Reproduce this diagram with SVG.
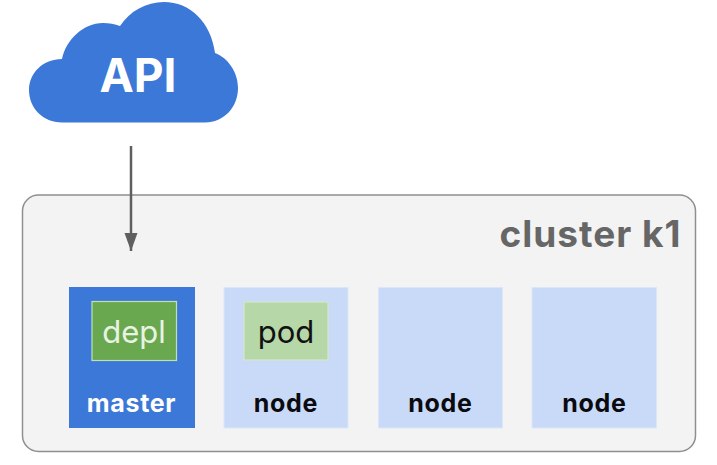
<svg xmlns="http://www.w3.org/2000/svg" width="717" height="465" viewBox="0 0 717 465">
<defs>
<style>
text{font-family:Inter,Roboto,"Liberation Sans",sans-serif;text-anchor:middle}
.n{fill:#c9daf8;stroke:#dbe6f8;stroke-width:1}
.l{font-size:25px;font-weight:700;fill:#0b0b0f;letter-spacing:.7px}
.in{font-size:31px;font-weight:400}
</style>
<marker id="arr" markerUnits="userSpaceOnUse" markerWidth="19" markerHeight="14" refX="18" refY="6.5" orient="auto"><path d="M0,0L18,6.500L0,13Z" fill="#5f5f5f"/></marker>
</defs>
<rect width="717" height="465" fill="#ffffff"/>
<g id="cluster">
<rect x="22.500" y="195" width="673" height="256.500" rx="16" fill="#f3f3f3" stroke="#8f8f8f" stroke-width="1.500"/>
<text x="590.500" y="247" font-size="37" font-weight="700" fill="#666666" letter-spacing="1">cluster k1</text>
</g>
<g id="api">
<path d="M62,122.500C43,122.500 29,108 29,90C29,73 43,59 62,59C66,40 83,23 103,23C109,23 115,24 120,26C130,11 146,2 164,2C190,2 211,22 215,53C228,58 238,72 238,88C238,107 224,122.500 205,122.500Z" fill="#3c78d8"/>
<text x="138" y="92" font-size="46" font-weight="700" fill="#ffffff">API</text>
</g>
<g id="connectors">
<line x1="131" y1="146" x2="131" y2="251" stroke="#5f5f5f" stroke-width="2.500" marker-end="url(#arr)"/>
</g>
<g id="master">
<rect x="69" y="287" width="126" height="141" fill="#3c78d8"/>
<text x="131.500" y="412" class="l" style="fill:#ffffff">master</text>
</g>
<g id="depl">
<rect x="92" y="301.500" width="84.500" height="59" fill="#6aa84f" stroke="#c4dfb8" stroke-width="1.200"/>
<text x="134" y="343" class="in" style="fill:#e9f3e4">depl</text>
</g>
<g id="node1">
<rect x="224" y="287.500" width="124" height="140.500" class="n"/>
<text x="286" y="412" class="l">node</text>
</g>
<g id="pod">
<rect x="244" y="302" width="84" height="58" fill="#b6d7a8" stroke="#d4e6cc" stroke-width="1.200"/>
<text x="286" y="343" class="in" style="fill:#111111">pod</text>
</g>
<g id="node2">
<rect x="378.500" y="287.500" width="124" height="140.500" class="n"/>
<text x="440.500" y="412" class="l">node</text>
</g>
<g id="node3">
<rect x="532" y="287.500" width="124.500" height="140.500" class="n"/>
<text x="594.500" y="412" class="l">node</text>
</g>
</svg>
